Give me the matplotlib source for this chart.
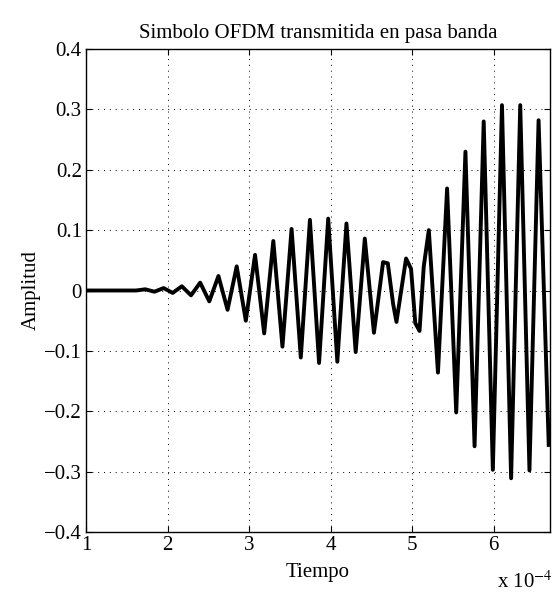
import matplotlib
matplotlib.use('Agg')
from matplotlib import pyplot as plt

# time in units of 1e-4 s, amplitude
tiempo = [1.000, 1.054, 1.166, 1.278, 1.390, 1.503, 1.615, 1.727, 1.839,
          1.951, 2.063, 2.175, 2.288, 2.400, 2.512, 2.624, 2.736, 2.848,
          2.960, 3.073, 3.185, 3.297, 3.409, 3.521, 3.634, 3.746, 3.858,
          3.970, 4.082, 4.194, 4.307, 4.419, 4.531, 4.643, 4.701, 4.766,
          4.807, 4.925, 4.986, 5.038, 5.090, 5.142, 5.204, 5.316, 5.428,
          5.540, 5.653, 5.765, 5.877, 5.989, 6.101, 6.213, 6.325, 6.438,
          6.550, 6.675]
amplitud = [0.000, 0.000, 0.000, 0.000, 0.000, 0.000, 0.000, 0.002, -0.002,
            0.004, -0.004, 0.007, -0.008, 0.013, -0.018, 0.024, -0.032, 0.040,
            -0.050, 0.059, -0.071, 0.082, -0.093, 0.102, -0.111, 0.117, -0.120,
            0.119, -0.118, 0.111, -0.102, 0.086, -0.070, 0.047, 0.045, -0.022,
            -0.052, 0.053, 0.036, -0.054, -0.067, 0.040, 0.100, -0.136, 0.169,
            -0.202, 0.230, -0.258, 0.280, -0.297, 0.307, -0.311, 0.307, -0.298,
            0.282, -0.259]

xticks = [1, 2, 3, 4, 5, 6]
yticks = [-0.4, -0.3, -0.2, -0.1, 0, 0.1, 0.2, 0.3, 0.4]
ylabels = ['\u22120.4', '\u22120.3', '\u22120.2', '\u22120.1', '0',
           '0.1', '0.2', '0.3', '0.4']

plt.rcParams['font.family'] = ['Liberation Serif', 'DejaVu Serif']
plt.rcParams['mathtext.fontset'] = 'stix'
plt.rcParams['font.size'] = 15

fig = plt.figure(figsize=(5.52, 5.93), dpi=100)
ax = fig.add_axes([86/552, 61/593, 464/552, 483/593])

ax.plot(tiempo, amplitud, color='black', linewidth=2.8,
        solid_joinstyle='round', solid_capstyle='butt')

ax.set_xlim(1, 6.69)
ax.set_ylim(-0.4, 0.4)
ax.set_xticks(xticks)
ax.set_xticklabels([str(x) for x in xticks])
ax.set_yticks(yticks)
ax.set_yticklabels(ylabels)
ax.tick_params(direction='in', length=4, width=0.8, top=True, right=True,
               labelsize=15, pad=3)
ax.grid(True, color='black', linestyle=(0, (1, 5)), linewidth=0.7)
for s in ax.spines.values():
  s.set_linewidth(1.0)

ax.set_title('Simbolo OFDM transmitida en pasa banda', fontsize=15, pad=8)
ax.set_xlabel('Tiempo', fontsize=15, labelpad=6)
ax.set_ylabel('Amplitud', fontsize=15, labelpad=2)
fig.text(497/552, 5/593, r'x 10$^{-4}$', fontsize=15, ha='left', va='baseline')

fig.savefig('out.png', dpi=100)
